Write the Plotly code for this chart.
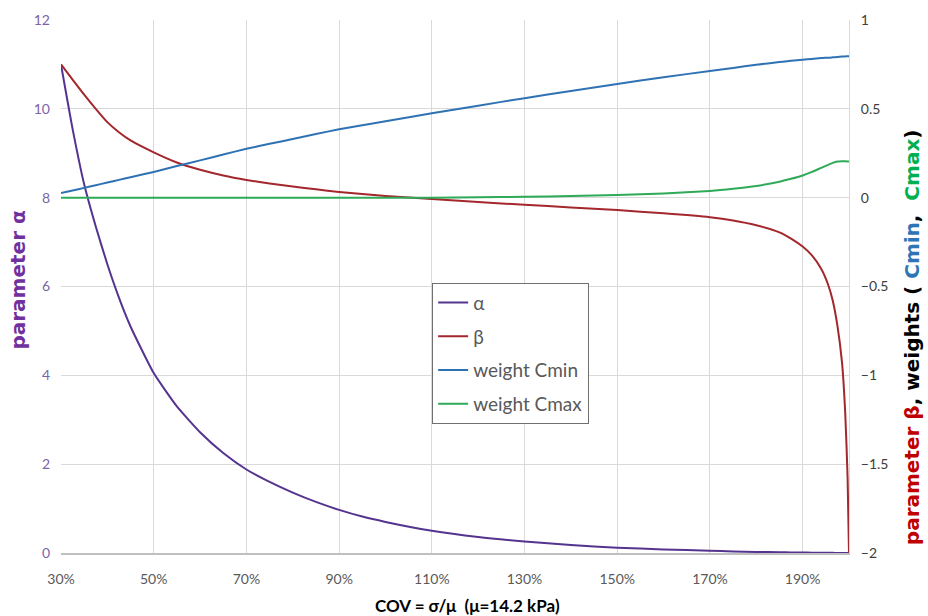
import plotly.graph_objects as go

# Coefficient of variation (%) at which the fitted parameters were evaluated
cov_pct = [30, 32.5, 35, 37.5, 40, 42.5, 45, 50, 55, 60, 65, 70, 75, 80, 85, 90, 95, 100,
           110, 120, 130, 140, 150, 160, 170, 175, 180, 185, 187.5, 190, 192, 194, 195.5,
           196.5, 197.5, 198.5, 199.2, 199.7, 200]

# Shape parameter alpha (left axis)
alpha = [11.0, 9.55, 8.3, 7.35, 6.5, 5.75, 5.1, 4.05, 3.3, 2.72, 2.25, 1.88, 1.6, 1.36, 1.15,
         0.97, 0.82, 0.70, 0.50, 0.36, 0.26, 0.18, 0.12, 0.08, 0.05, 0.035, 0.025, 0.016,
         0.013, 0.01, 0.008, 0.005, 0.004, 0.003, 0.002, 0.001, 0.0005, 0.0002, 0.0]

# Shape parameter beta (right axis)
beta = [0.75, 0.665, 0.58, 0.5, 0.425, 0.368, 0.322, 0.255, 0.198, 0.157, 0.125, 0.10, 0.08,
        0.063, 0.047, 0.032, 0.02, 0.01, -0.008, -0.025, -0.04, -0.055, -0.07, -0.088,
        -0.11, -0.128, -0.155, -0.195, -0.23, -0.275, -0.325, -0.4, -0.49, -0.58, -0.72,
        -0.93, -1.22, -1.58, -2.0]

# Mixture weights (right axis)
w_cmin = [0.026, 0.04, 0.055, 0.07, 0.085, 0.10, 0.115, 0.145, 0.178, 0.21, 0.243, 0.275,
          0.303, 0.33, 0.358, 0.385, 0.408, 0.43, 0.475, 0.518, 0.56, 0.60, 0.64, 0.678,
          0.713, 0.73, 0.748, 0.763, 0.77, 0.776, 0.781, 0.786, 0.788, 0.79, 0.792, 0.794,
          0.795, 0.796, 0.796]
w_cmax = [0, 0, 0, 0, 0, 0, 0, 0, 0, 0, 0, 0, 0, 0, 0, 0, 0, 0, 0, 0.002, 0.005, 0.009,
          0.015, 0.024, 0.038, 0.05, 0.066, 0.09, 0.106, 0.125, 0.145, 0.168, 0.185, 0.196,
          0.203, 0.205, 0.205, 0.204, 0.203]

x_ticks = [30, 50, 70, 90, 110, 130, 150, 170, 190]
left_ticks = [0, 2, 4, 6, 8, 10, 12]
right_ticks = [-2, -1.5, -1, -0.5, 0, 0.5, 1]

C_ALPHA = "#55348f"
C_BETA = "#a3272c"
C_CMIN = "#2f72b4"
C_CMAX = "#2eaa58"
FONT = "Lato, sans-serif"
TITLE_FONT = "DejaVu Sans, sans-serif"

series = [
    ("\u03b1", alpha, "y", C_ALPHA),
    ("\u03b2", beta, "y2", C_BETA),
    ("weight Cmin", w_cmin, "y2", C_CMIN),
    ("weight Cmax", w_cmax, "y2", C_CMAX),
]

fig = go.Figure()
for name, vals, axis, color in series:
    fig.add_trace(go.Scatter(x=cov_pct, y=vals, name=name, mode="lines", yaxis=axis,
                             legendgroup=name,
                             line=dict(color=color, width=2, shape="spline", smoothing=0.5)))

fig.update_layout(
    width=928, height=616,
    margin=dict(l=61, r=79, t=20, b=63, autoexpand=False),
    plot_bgcolor="white", paper_bgcolor="white",
    font=dict(family=FONT, size=14, color="#595959"),
    xaxis=dict(range=[30, 200], tickvals=x_ticks, ticktext=[f"{v}%" for v in x_ticks],
               showgrid=True, gridcolor="#d9d9d9", gridwidth=1, zeroline=False,
               showline=True, linecolor="#bfbfbf", linewidth=1.5,
               tickfont=dict(size=14, color="#595959"), ticks="", ticklabelstandoff=12),
    yaxis=dict(range=[0, 12], tickvals=left_ticks, showgrid=True, gridcolor="#d9d9d9",
               zeroline=False, showline=False, ticks="", ticklabelstandoff=10,
               tickfont=dict(size=14, color="#7a64a8")),
    yaxis2=dict(range=[-2, 1], tickvals=right_ticks, overlaying="y", side="right",
                showgrid=False, zeroline=False, showline=True, linecolor="#d9d9d9",
                ticks="", ticklabelstandoff=8, tickfont=dict(size=14, color="#404040")),
    legend=dict(x=0.471, y=0.507, xanchor="left", yanchor="top",
                bgcolor="white", bordercolor="#6f6f6f", borderwidth=1,
                font=dict(size=19, color="#595959"), tracegroupgap=6, itemwidth=30),
    showlegend=True,
)

# Horizontal axis title
fig.add_annotation(
    xref="paper", yref="paper", x=0.516, y=-0.098, showarrow=False,
    xanchor="center", yanchor="middle",
    text="<b>COV = \u03c3/\u03bc  (\u03bc=14.2 kPa)</b>",
    font=dict(family=FONT, size=17, color="#000000"),
)

# Title for the primary axis
fig.add_annotation(
    xref="paper", yref="paper", x=-0.054, y=0.512, textangle=-90, showarrow=False,
    xanchor="center", yanchor="middle",
    text="<b>parameter \u03b1</b>",
    font=dict(family=TITLE_FONT, size=20, color="#7030a0"),
)

# Multi-coloured title for the secondary axis
fig.add_annotation(
    xref="paper", yref="paper", x=1.08, y=0.405, textangle=-90, showarrow=False,
    xanchor="center", yanchor="middle",
    text=("<b><span style='color:#c00000'>parameter \u03b2</span>"
          "<span style='color:#000000'>, weights ( </span>"
          "<span style='color:#2e75b6'>Cmin</span>"
          "<span style='color:#000000'>,  </span>"
          "<span style='color:#00b050'>Cmax</span>"
          "<span style='color:#000000'>)</span></b>"),
    font=dict(family=TITLE_FONT, size=20),
)

fig.write_html("out.html")
